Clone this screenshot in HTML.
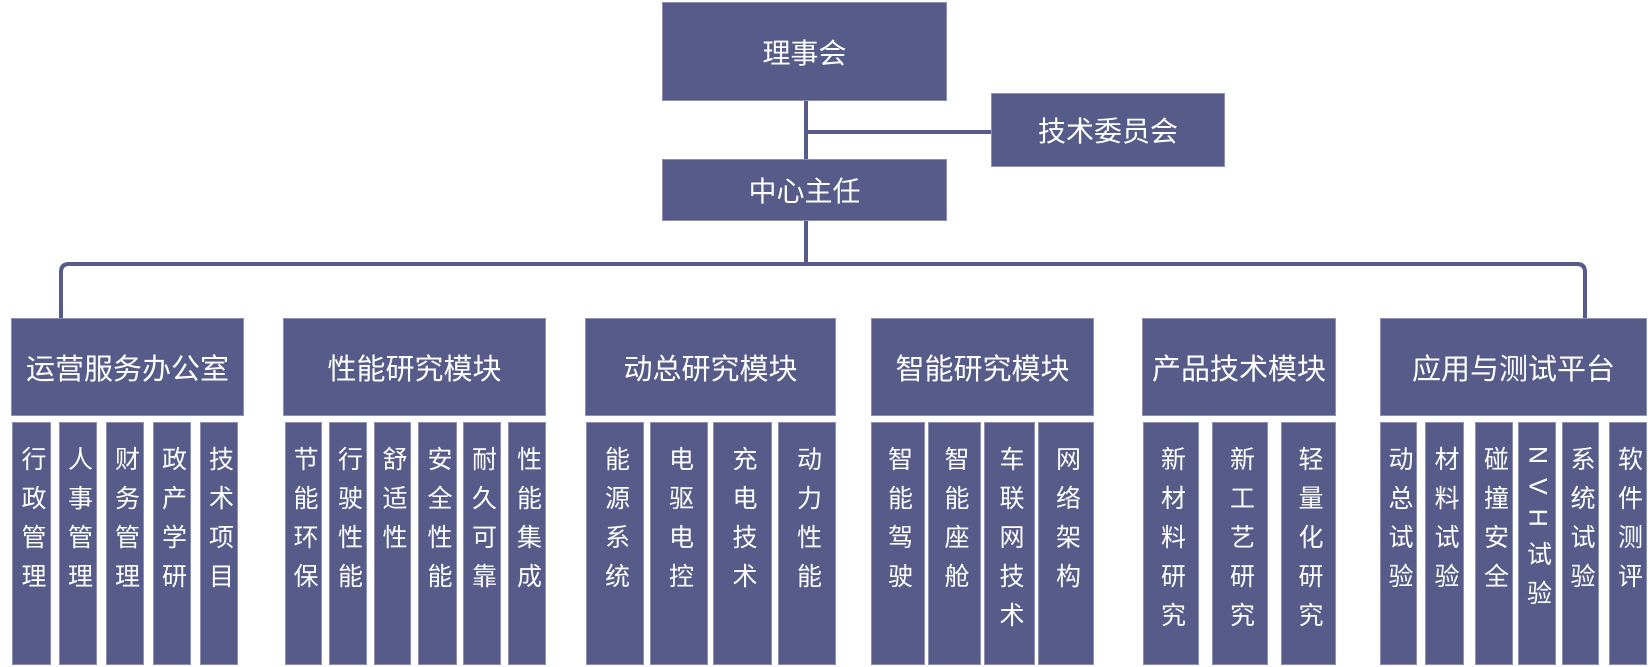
<!DOCTYPE html>
<html><head><meta charset="utf-8"><style>
body{margin:0;width:1650px;height:667px;background:#fff;position:relative;overflow:hidden;font-family:"Liberation Sans","Noto Sans CJK SC",sans-serif;}
.b{position:absolute;background:#575b89;border:1px solid #8d90b0;box-sizing:border-box;color:#fff;display:flex;align-items:center;justify-content:center;}
.t{font-size:28px;}
.h{font-size:29px;top:318px;height:98px;}
.s{top:422px;height:243px;align-items:flex-start;justify-content:center;}
.s span{writing-mode:vertical-rl;font-size:25px;letter-spacing:14px;line-height:25px;margin-top:23px;}
svg{position:absolute;left:0;top:0;}
</style></head><body>
<svg width="1650" height="667"><g fill="none" stroke="#575b89" stroke-width="4">
<path d="M806 101 V160"/><path d="M806 132 H991"/><path d="M806 221 V264"/>
<path d="M61 319 V272 Q61 264 69 264 H1577 Q1585 264 1585 272 V319"/>
</g></svg>
<div class="b t" style="left:662px;top:2px;width:285px;height:99px">理事会</div>
<div class="b t" style="left:991px;top:93px;width:234px;height:74px">技术委员会</div>
<div class="b t" style="left:662px;top:159px;width:285px;height:62px">中心主任</div>

<div class="b h" style="left:11px;width:233px">运营服务办公室</div>
<div class="b h" style="left:283px;width:263px">性能研究模块</div>
<div class="b h" style="left:585px;width:251px">动总研究模块</div>
<div class="b h" style="left:871px;width:223px">智能研究模块</div>
<div class="b h" style="left:1142px;width:194px">产品技术模块</div>
<div class="b h" style="left:1380px;width:267px">应用与测试平台</div>

<div class="b s" style="left:12px;width:39px"><span>行政管理</span></div>
<div class="b s" style="left:59px;width:38px"><span>人事管理</span></div>
<div class="b s" style="left:106px;width:38px"><span>财务管理</span></div>
<div class="b s" style="left:153px;width:38px"><span>政产学研</span></div>
<div class="b s" style="left:200px;width:38px"><span>技术项目</span></div>

<div class="b s" style="left:285px;width:37px"><span>节能环保</span></div>
<div class="b s" style="left:329px;width:38px"><span>行驶性能</span></div>
<div class="b s" style="left:374px;width:37px"><span>舒适性</span></div>
<div class="b s" style="left:418px;width:39px"><span>安全性能</span></div>
<div class="b s" style="left:463px;width:38px"><span>耐久可靠</span></div>
<div class="b s" style="left:508px;width:38px"><span>性能集成</span></div>

<div class="b s" style="left:586px;width:58px"><span>能源系统</span></div>
<div class="b s" style="left:650px;width:58px"><span>电驱电控</span></div>
<div class="b s" style="left:713px;width:59px"><span>充电技术</span></div>
<div class="b s" style="left:778px;width:58px"><span>动力性能</span></div>

<div class="b s" style="left:871px;width:54px"><span>智能驾驶</span></div>
<div class="b s" style="left:928px;width:53px"><span>智能座舱</span></div>
<div class="b s" style="left:984px;width:51px"><span>车联网技术</span></div>
<div class="b s" style="left:1038px;width:56px"><span>网络架构</span></div>

<div class="b s" style="left:1143px;width:56px"><span>新材料研究</span></div>
<div class="b s" style="left:1212px;width:56px"><span>新工艺研究</span></div>
<div class="b s" style="left:1281px;width:55px"><span>轻量化研究</span></div>

<div class="b s" style="left:1380px;width:37px"><span>动总试验</span></div>
<div class="b s" style="left:1425px;width:39px"><span>材料试验</span></div>
<div class="b s" style="left:1475px;width:38px"><span>碰撞安全</span></div>
<div class="b s" style="left:1518px;width:38px"><span>NVH试验</span></div>
<div class="b s" style="left:1562px;width:37px"><span>系统试验</span></div>
<div class="b s" style="left:1609px;width:38px"><span>软件测评</span></div>
</body></html>
